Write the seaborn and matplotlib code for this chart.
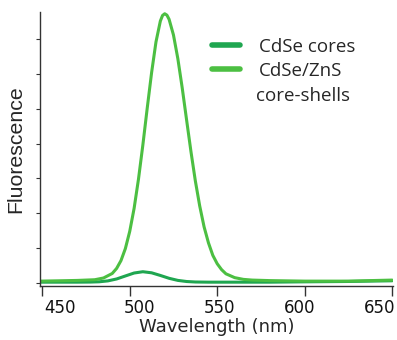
import numpy as np
import pandas as pd
import seaborn as sns
import matplotlib.pyplot as plt

# Emission spectra (y in tick units)
wl_cores = [449, 460, 470, 477.5, 482.5, 487.5, 492.5, 497.5, 502.5, 507.5,
            512.5, 517.5, 522.5, 527.5, 532.5, 537.5, 545, 560, 580, 600, 625, 650]
fl_cores = [0.02, 0.02, 0.02, 0.023, 0.031, 0.057, 0.112, 0.198, 0.283, 0.32,
            0.289, 0.213, 0.131, 0.071, 0.039, 0.025, 0.02, 0.02, 0.02, 0.03,
            0.04, 0.06]

wl_shells = [449, 460, 470, 480, 485, 490, 492.5, 495, 497.5, 500, 502.5, 505,
             507.5, 510, 512.5, 515, 517.5, 518.75, 520, 521.25, 522.5, 525,
             527.5, 530, 532.5, 535, 537.5, 540, 542.5, 545, 547.5, 550, 552.5,
             555, 560, 565, 570, 580, 600, 625, 650]
fl_shells = [0.05, 0.06, 0.07, 0.09, 0.14, 0.27, 0.415, 0.64, 0.985, 1.48,
             2.14, 2.98, 3.96, 5.02, 6.04, 6.92, 7.52, 7.68, 7.73, 7.69, 7.57,
             7.12, 6.44, 5.60, 4.68, 3.77, 2.93, 2.21, 1.61, 1.15, 0.79, 0.55,
             0.38, 0.26, 0.15, 0.10, 0.08, 0.065, 0.05, 0.05, 0.08]

x_ticks = [450, 500, 550, 600, 650]
y_ticks = [0, 1, 2, 3, 4, 5, 6, 7]

df = pd.concat([
    pd.DataFrame({'wl': wl_cores, 'fl': fl_cores, 'sample': 'CdSe cores'}),
    pd.DataFrame({'wl': wl_shells, 'fl': fl_shells, 'sample': 'CdSe/ZnS'}),
])

sns.set_style('white')
fig = plt.figure(figsize=(3.97, 3.40), dpi=100)
ax = fig.add_axes([40 / 397, 1 - 286 / 340, 353 / 397, 274 / 340])

sns.lineplot(data=df, x='wl', y='fl', hue='sample',
             palette={'CdSe cores': '#1fa650', 'CdSe/ZnS': '#4cbf42'},
             linewidth=2.2, ax=ax, sort=False)

ax.set_xlim(448.7, 650.5)
ax.set_ylim(-0.09, 7.78)
ax.set_xticks(x_ticks)
ax.set_yticks(y_ticks)
ax.set_yticklabels([])
ax.set_xlabel('')
ax.tick_params(axis='x', direction='out', length=7, width=1, color='#333333',
               labelbottom=False, bottom=True)
ax.tick_params(axis='y', direction='out', length=3, width=0.8, color='#333333',
               left=True)
sns.despine(ax=ax)
for s in ['left', 'bottom']:
    ax.spines[s].set_color('#333333')
    ax.spines[s].set_linewidth(1)
ax.set_ylabel('Fluorescence', fontsize=15.3, family='Liberation Sans', labelpad=4)

# tick labels in the original sit on a slightly compressed scale
ax2 = ax.twiny()
ax2.set_xlim(437.6, 658.6)
ax2.set_xticks(x_ticks)
ax2.xaxis.set_ticks_position('bottom')
ax2.xaxis.set_label_position('bottom')
ax2.tick_params(axis='x', length=0, labelsize=12, pad=9.5, colors='#111111')
for s in ax2.spines.values():
    s.set_visible(False)
ax2.set_xlabel('Wavelength (nm)', fontsize=13, labelpad=0.5)

leg = ax.legend(frameon=False, loc='upper left',
                bbox_to_anchor=(212 / 397, 1 - 38 / 340), bbox_transform=fig.transFigure,
                borderpad=0, borderaxespad=0, handlelength=1.5, handletextpad=1.0,
                labelspacing=0.32, prop={'family': 'Open Sans', 'size': 13.5})
for line in leg.get_lines():
    line.set_linewidth(4)
fig.text(256 / 397, 1 - 96 / 340, 'core-shells', family='Open Sans', fontsize=13.5,
         va='center', ha='left')

fig.savefig('out.png', dpi=100)
